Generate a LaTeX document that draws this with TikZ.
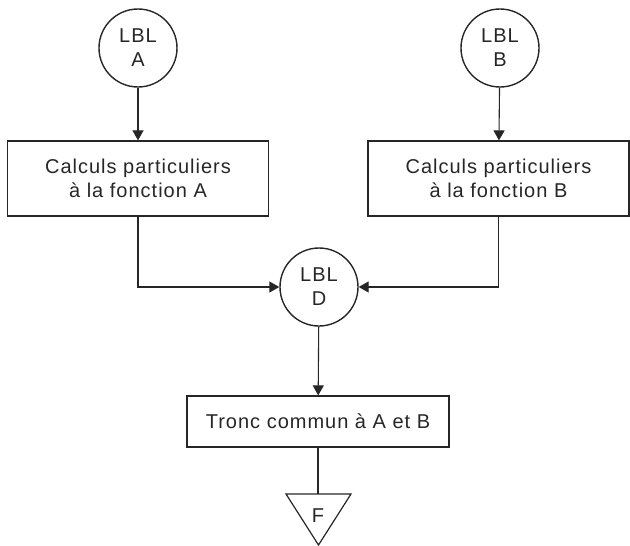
\documentclass[tikz,border=0pt]{standalone}
\usepackage{fontspec}
\setmainfont[LetterSpace=5]{Liberation Sans}
\usetikzlibrary{arrows.meta}

\begin{document}
\begin{tikzpicture}[x=1pt, y=-1pt, black!85,
    every node/.style = {align=center, inner sep=0pt,
      font=\fontsize{20}{24}\selectfont},
    lbl/.style = {shape=circle, draw, line width=1.4pt, minimum size=78pt},
    calc/.style = {shape=rectangle, draw, line width=1.2pt,
      minimum width=261pt, minimum height=75pt},
    flow/.style = {line width=1.1pt, -{Triangle[length=10pt, width=11pt]}}]
  \useasboundingbox (0,0) rectangle (630,546);
  \node[lbl] (lblA) at (138,48) {LBL\\A};
  \node[lbl] (lblB) at (500,48) {LBL\\B};
  \node[calc] (calcA) at (138,178.5) {Calculs particuliers\\à la fonction A};
  \node[calc] (calcB) at (498.5,178.5) {Calculs particuliers\\à la fonction B};
  \node[lbl] (lblD) at (319,287) {LBL\\D};
  \node[calc, minimum width=262pt, minimum height=51pt] (tronc) at (318,421.5)
    {Tronc commun à A et B};
  % fin de programme
  \coordinate (finTop) at (318,494);
  \node (fin) at (318,516) {F};
  \draw[line width=1.2pt] (286,494) -- (351,494) -- (318.5,545) -- cycle;
  \draw[flow] (lblA) -- (calcA);
  \draw[flow] (lblB) -- (calcB);
  \draw[flow] (calcA) |- (lblD);
  \draw[flow] (calcB) |- (lblD);
  \draw[flow] (lblD) -- (tronc);
  \draw[line width=1.1pt] (tronc) -- (finTop);
\end{tikzpicture}
\end{document}
